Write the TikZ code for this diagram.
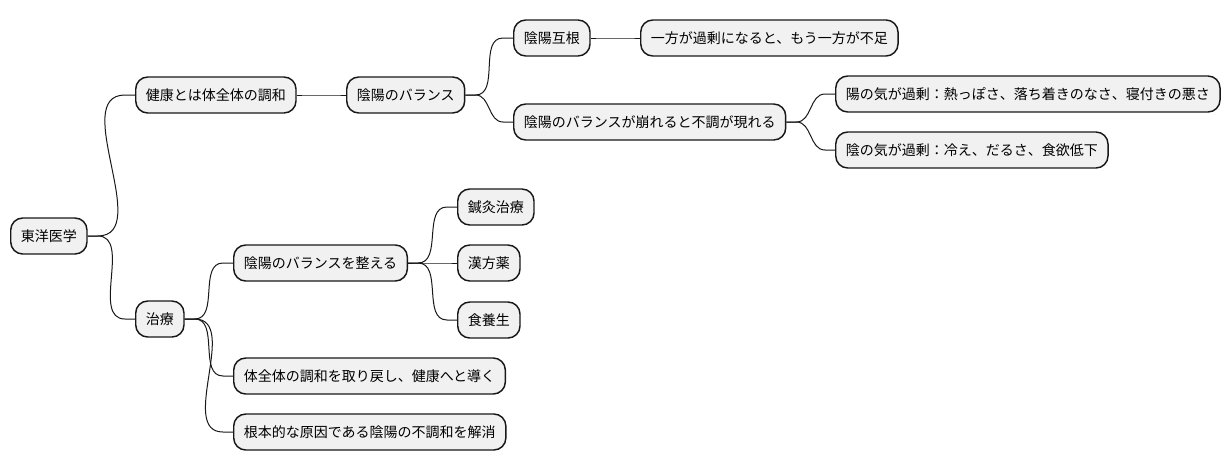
\documentclass[tikz,border=0pt]{standalone}
\usepackage{fontspec}
\setmainfont{Noto Sans CJK JP}
\definecolor{boxfill}{HTML}{F1F1F1}
\definecolor{boxline}{HTML}{181818}
\tikzset{
  mm/.style={draw=boxline, fill=boxfill, line width=1.1pt, rounded corners=9pt,
    minimum height=27pt, inner xsep=7.6pt, inner ysep=0pt, anchor=west,
    font=\fontsize{10.5pt}{12pt}\selectfont, text=black},
  link/.style={draw=boxline, line width=0.75pt}
}
\newcommand{\mmlink}[2]{\draw[link] (#1.east) -- ++(7.5pt,0) to[out=0,in=180] ([xshift=-7.5pt]#2.west) -- (#2.west);}
\begin{document}
\begin{tikzpicture}[x=0.75pt,y=-0.75pt]
\useasboundingbox (0,0) rectangle (1230,471);
\node[mm] (root) at (10,236) {東洋医学};
\node[mm] (kenko) at (135,95) {健康とは体全体の調和};
\node[mm] (balance) at (346,95) {陰陽のバランス};
\node[mm] (gokon) at (513,38) {陰陽互根};
\node[mm] (ippo) at (640,38) {一方が過剰になると、もう一方が不足};
\node[mm] (kuzure) at (513,122) {陰陽のバランスが崩れると不調が現れる};
\node[mm] (yo) at (835,94) {陽の気が過剰：熱っぽさ、落ち着きのなさ、寝付きの悪さ};
\node[mm] (in) at (835,150) {陰の気が過剰：冷え、だるさ、食欲低下};
\node[mm] (chiryo) at (135,319) {治療};
\node[mm] (totonoe) at (233,263) {陰陽のバランスを整える};
\node[mm] (shinkyu) at (457,207) {鍼灸治療};
\node[mm] (kampo) at (457,263) {漢方薬};
\node[mm] (shoku) at (457,320) {食養生};
\node[mm] (torimodoshi) at (233,376) {体全体の調和を取り戻し、健康へと導く};
\node[mm] (kaisho) at (233,432) {根本的な原因である陰陽の不調和を解消};
\mmlink{root}{kenko}
\mmlink{root}{chiryo}
\mmlink{kenko}{balance}
\mmlink{balance}{gokon}
\mmlink{balance}{kuzure}
\mmlink{gokon}{ippo}
\mmlink{kuzure}{yo}
\mmlink{kuzure}{in}
\mmlink{chiryo}{totonoe}
\mmlink{chiryo}{torimodoshi}
\mmlink{chiryo}{kaisho}
\mmlink{totonoe}{shinkyu}
\mmlink{totonoe}{kampo}
\mmlink{totonoe}{shoku}
\end{tikzpicture}
\end{document}
